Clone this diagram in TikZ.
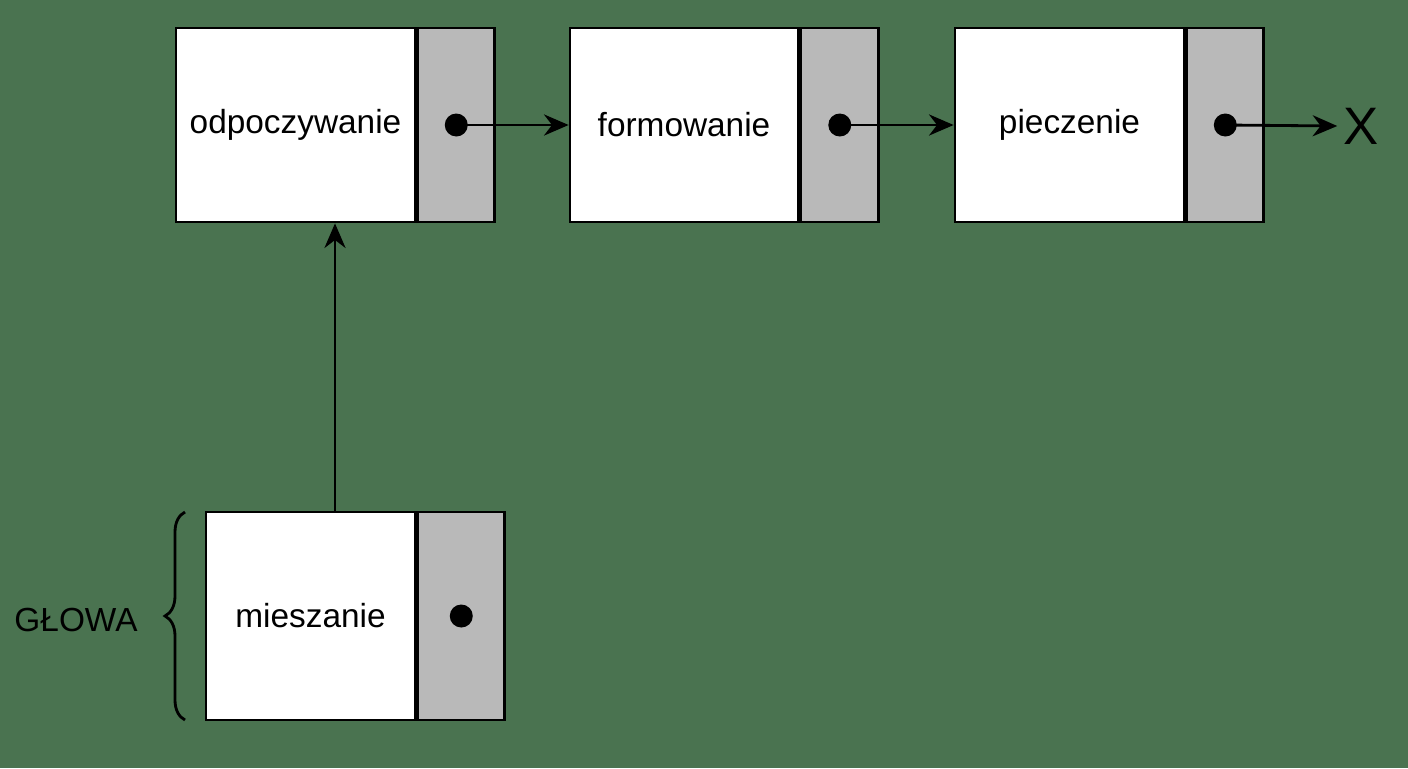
\documentclass[tikz,border=0pt]{standalone}
\usepackage{fontspec}
\setmainfont{Liberation Sans}
\usetikzlibrary{positioning, arrows.meta, decorations.pathreplacing}

\begin{document}
\begin{tikzpicture}[x=0.02cm, y=-0.02cm,
  data/.style={draw, line width=1.6pt, fill=white, minimum height=3.88cm, inner sep=0pt, font=\fontsize{19}{22}\selectfont},
  ptr/.style={draw, line width=1.6pt, fill=gray!55, minimum height=3.88cm, inner sep=0pt, anchor=west},
  dot/.style={circle, fill=black, inner sep=0pt, minimum size=0.46cm},
  link/.style={line width=1.6pt, -{Stealth[length=14pt, width=12pt]}}]
  \fill[green!25!black!75!white, fill={rgb,255:red,74;green,115;blue,80}] (0,0) rectangle (1408,768);
  \useasboundingbox (0,0) rectangle (1408,768);

  \node[data, minimum width=4.78cm] (odp) at (295.5,125) {odpoczywanie};
  \node[ptr, minimum width=1.54cm] (odpP) at (odp.east) {};
  \node[data, minimum width=4.56cm] (form) at (684,125) {formowanie};
  \node[ptr, minimum width=1.56cm] (formP) at (form.east) {};
  \node[data, minimum width=4.58cm] (piecz) at (1069.5,125) {pieczenie};
  \node[ptr, minimum width=1.54cm] (pieczP) at (piecz.east) {};
  \node[data, minimum width=4.18cm, minimum height=4.16cm] (miesz) at (310.5,616) {mieszanie};
  \node[ptr, minimum width=1.74cm, minimum height=4.16cm] (mieszP) at (miesz.east) {};

  \node[dot] (d1) at (odpP) {};
  \node[dot] (d2) at (formP) {};
  \node[dot] (d3) at (pieczP) {};
  \node[dot] (d4) at (mieszP) {};
  \node[font=\fontsize{30}{34}\selectfont] (x) at (1361,126) {X};

  \draw[link] (d1.center) -- (form.west);
  \draw[link] (d2.center) -- (piecz.west);
  \draw[link] (d3.center) -- (x.west);
  \coordinate (up) at (335,512);
  \draw[link] (up) -- (odp.south -| up);

  % glowa
  \coordinate (bb) at (185,720);
  \coordinate (bt) at (185,512);
  \draw[line width=1.6pt, decorate, decoration={brace, amplitude=0.4cm}] (bb) -- (bt);
  \node[font=\fontsize{19}{22}\selectfont] (glowa) at (76,620) {GŁOWA};
\end{tikzpicture}
\end{document}
